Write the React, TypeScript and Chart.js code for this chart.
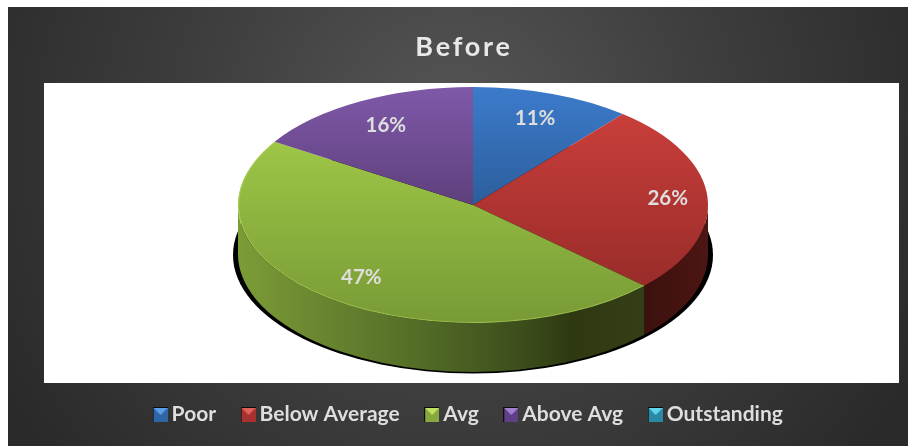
import React, { useEffect, useRef } from "react";
import { Chart, registerables } from "chart.js";

Chart.register(...registerables);

const titleText = "Before";
const categories = ["Poor", "Below Average", "Avg", "Above Avg", "Outstanding"];
const shares = [11, 26, 47, 16, 0];

// [colour at the top of the disc, colour at the bottom of the disc]
const faceColors = [
  ["#3c7bcb", "#1c416d"],
  ["#d0413d", "#8f2826"],
  ["#a9d34b", "#789a36"],
  ["#7f59a9", "#3d254f"],
  ["#33b0cc", "#1f7f96"],
];
// [triangle, body] of each legend swatch
const swatchColors = [
  ["#5a9fe8", "#2f66a8"],
  ["#e0605c", "#a83230"],
  ["#bfe25e", "#87a83c"],
  ["#a37fd0", "#5f3f85"],
  ["#5fd6ee", "#2a8aa5"],
];
// Horizontal shading of the outer wall: [stop, colour]
const wallStops: Record<number, [number, string][]> = {
  1: [[0, "#3c100e"], [1, "#4c1613"]],
  2: [[0, "#7c9c37"], [0.2, "#6a8630"], [0.45, "#536c27"], [0.72, "#3a4b1a"], [0.82, "#2e3912"], [1, "#343f17"]],
};
const labelRadius = [0.78, 0.83, 0.775, 0.77, 0];

const CX = 473;
const CY = 205;
const RX = 235;
const RY = 118;
const DEPTH = 49;
const SQUASH = RY / RX;
const LABEL_FONT = "bold 20.5px Lato";
const TEXT_COLOR = "#dedede";

function makeSwatch(i: number) {
  const c = document.createElement("canvas");
  c.width = 15;
  c.height = 15;
  const g = c.getContext("2d")!;
  g.fillStyle = "#0c0c0c";
  g.fillRect(0, 0, 15, 15);
  g.fillStyle = swatchColors[i][1];
  g.fillRect(1, 1, 14, 14);
  g.fillStyle = swatchColors[i][0];
  g.beginPath();
  g.moveTo(1, 1);
  g.lineTo(15, 1);
  g.lineTo(8, 8);
  g.closePath();
  g.fill();
  return c;
}

const panelPlugin = {
  id: "panel",
  beforeDraw(chart: any) {
    const { ctx, width, height } = chart;
    ctx.save();
    ctx.fillStyle = "#ffffff";
    ctx.fillRect(0, 0, width, height);
    const g = ctx.createRadialGradient(454, 130, 0, 454, 130, 520);
    g.addColorStop(0, "#565656");
    g.addColorStop(0.5, "#3e3e3e");
    g.addColorStop(1, "#2a2a2a");
    ctx.fillStyle = g;
    ctx.fillRect(8, 7, width - 8, height - 7);
    ctx.fillStyle = "#ffffff";
    ctx.fillRect(44, 83, 855, 300);
    ctx.restore();
  },
};

const pie3dPlugin = {
  id: "pie3d",
  afterLayout(chart: any) {
    // The title is set with wide tracking, slightly left of the plot's centre.
    const t = chart.titleBlock;
    if (t && !t.__tracked) {
      const draw = t.draw;
      t.draw = function () {
        const ctx = chart.ctx;
        ctx.save();
        ctx.letterSpacing = "2.8px";
        ctx.translate(-7, 0);
        draw.call(t);
        ctx.restore();
      };
      t.__tracked = true;
    }
  },
  beforeDatasetsDraw(chart: any) {
    const { ctx } = chart;
    const arcs = chart.getDatasetMeta(0).data;
    ctx.save();
    ctx.fillStyle = "#000000";
    ctx.beginPath();
    ctx.ellipse(CX, CY + 50, RX + 5, RY + 0.5, 0, 0, Math.PI * 2);
    ctx.fill();
    arcs.forEach((arc: any, i: number) => {
      const a0 = Math.max(arc.startAngle, 0);
      const a1 = Math.min(arc.endAngle, Math.PI);
      if (a1 <= a0 || !wallStops[i]) return;
      const x0 = CX + RX * Math.cos(a1);
      const x1 = CX + RX * Math.cos(a0);
      const g = ctx.createLinearGradient(x0, 0, x1, 0);
      wallStops[i].forEach(([s, c]) => g.addColorStop(s, c));
      ctx.fillStyle = g;
      ctx.beginPath();
      ctx.ellipse(CX, CY, RX, RY, 0, a0, a1);
      ctx.ellipse(CX, CY + DEPTH, RX, RY, 0, a1, a0, true);
      ctx.closePath();
      ctx.fill();
    });
    ctx.restore();
    // The disc is laid flat by squashing the library's arcs around its centre.
    const first = arcs[0];
    ctx.save();
    ctx.translate(CX, CY);
    ctx.scale(1, SQUASH);
    ctx.translate(-first.x, -first.y);
  },
  afterDatasetsDraw(chart: any) {
    const { ctx } = chart;
    ctx.restore();
    const arcs = chart.getDatasetMeta(0).data;
    ctx.save();
    // Lit rim along the front edge of the disc
    ctx.lineWidth = 1;
    ctx.strokeStyle = "rgba(190,225,95,0.5)";
    const green = arcs[2];
    ctx.beginPath();
    ctx.ellipse(CX, CY, RX - 0.5, RY - 0.5, 0, Math.max(green.startAngle, 0), green.endAngle);
    ctx.stroke();
    ctx.font = LABEL_FONT;
    ctx.fillStyle = TEXT_COLOR;
    ctx.textAlign = "center";
    ctx.textBaseline = "middle";
    arcs.forEach((arc: any, i: number) => {
      if (!shares[i]) return;
      const mid = (arc.startAngle + arc.endAngle) / 2;
      const x = CX + RX * labelRadius[i] * Math.cos(mid);
      const y = CY + RY * labelRadius[i] * Math.sin(mid);
      ctx.fillText(`${shares[i]}%`, x, y);
    });
    ctx.restore();
  },
};

export default function App() {
  const ref = useRef<HTMLCanvasElement>(null);
  useEffect(() => {
    const chart = new Chart(ref.current!, {
      type: "pie",
      data: {
        labels: categories,
        datasets: [
          {
            data: shares,
            clip: false,
            borderWidth: 0,
            backgroundColor: (c: any) => {
              const area = c.chart.chartArea;
              const [top, bottom] = faceColors[c.dataIndex] ?? faceColors[0];
              if (!area) return top;
              const mid = (area.top + area.bottom) / 2;
              const g = c.chart.ctx.createLinearGradient(0, mid - RX, 0, mid + RX);
              g.addColorStop(0, top);
              g.addColorStop(1, bottom);
              return g;
            },
          } as any,
        ],
      },
      options: {
        animation: false,
        responsive: false,
        radius: RX,
        layout: { padding: { left: 34, right: 0, top: 0, bottom: 11 } },
        plugins: {
          tooltip: { enabled: false },
          title: {
            display: true,
            text: titleText,
            color: "#e8e8e8",
            font: { family: "Lato", size: 27, weight: "bold" },
            padding: { top: 31, bottom: 15 },
          },
          legend: {
            display: true,
            position: "bottom",
            labels: {
              boxWidth: 2,
              usePointStyle: true,
              padding: 31,
              font: { family: "Lato", size: 21, weight: "bold" },
              color: TEXT_COLOR,
              generateLabels: () =>
                categories.map((text, i) => ({
                  text,
                  index: i,
                  hidden: false,
                  fontColor: TEXT_COLOR,
                  pointStyle: makeSwatch(i),
                  lineWidth: 0,
                })),
            },
          },
        },
      } as any,
      plugins: [panelPlugin, pie3dPlugin],
    });
    return () => chart.destroy();
  }, []);
  return (
    <div style={{ position: "fixed", left: 0, top: 0, width: 908, height: 446 }}>
      <canvas ref={ref} width={908} height={446} style={{ display: "block" }} />
    </div>
  );
}
